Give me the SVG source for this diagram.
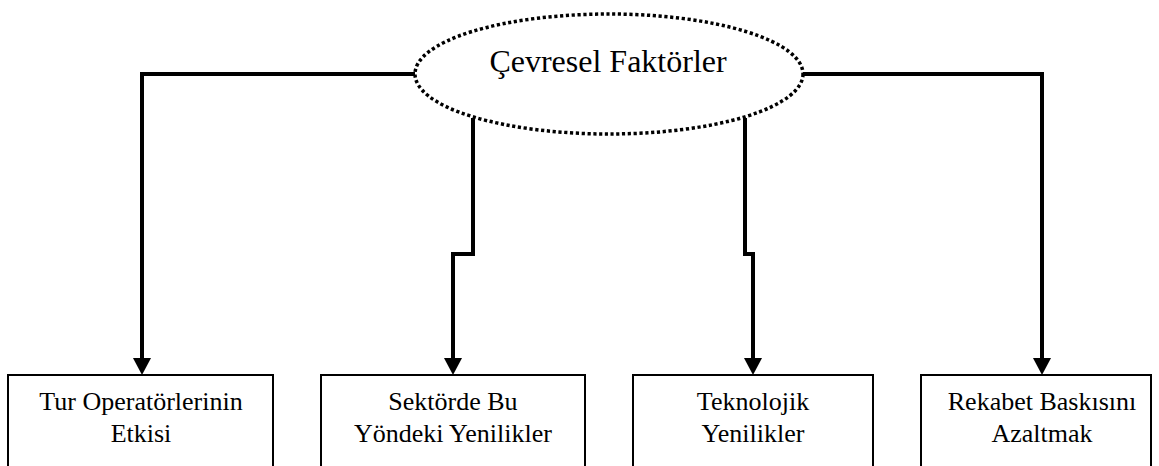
<svg xmlns="http://www.w3.org/2000/svg" width="1159" height="466" viewBox="0 0 1159 466">
  <defs>
    <style>
      .box { fill: #fff; stroke: #000; stroke-width: 2; }
      .wire { fill: none; stroke: #000; stroke-width: 4; stroke-linejoin: miter; stroke-linecap: butt; }
      .head { fill: #000; stroke: none; }
      .oval { fill: #fff; stroke: #000; stroke-width: 3.5; stroke-dasharray: 3.2 2.6; }
      .title { font-size: 32px; fill: #000; text-anchor: middle; }
      .label { font-size: 26px; fill: #000; text-anchor: middle; }
    </style>
  </defs>

  <rect width="1159" height="466" fill="#fff"/>

  <!-- connectors from the central oval down to each factor box -->
  <g id="connectors">
    <path class="wire" d="M415,74 H142 V360"/>
    <path class="wire" d="M473,118 V254 H453 V360"/>
    <path class="wire" d="M745,118 V254 H753 V360"/>
    <path class="wire" d="M803,74 H1042 V360"/>
    <polygon class="head" points="133,358 151,358 142,375"/>
    <polygon class="head" points="444,358 462,358 453,375"/>
    <polygon class="head" points="744,358 762,358 753,375"/>
    <polygon class="head" points="1033,358 1051,358 1042,375"/>
  </g>

  <g id="cevresel-faktorler">
    <ellipse class="oval" cx="609" cy="74" rx="194" ry="60"/>
    <text class="title" x="608" y="72" font-family="Liberation Serif">Çevresel Faktörler</text>
  </g>

  <g id="tur-operatorleri">
    <rect class="box" x="8" y="375" width="265" height="110"/>
    <text class="label" x="141" y="410" font-family="Liberation Serif">Tur Operatörlerinin</text>
    <text class="label" x="141" y="442" font-family="Liberation Serif">Etkisi</text>
  </g>

  <g id="sektor-yenilikleri">
    <rect class="box" x="321" y="375" width="264" height="110"/>
    <text class="label" x="453" y="410" font-family="Liberation Serif">Sektörde Bu</text>
    <text class="label" x="453" y="442" font-family="Liberation Serif">Yöndeki Yenilikler</text>
  </g>

  <g id="teknolojik-yenilikler">
    <rect class="box" x="633" y="375" width="240" height="110"/>
    <text class="label" x="753" y="410" font-family="Liberation Serif">Teknolojik</text>
    <text class="label" x="753" y="442" font-family="Liberation Serif">Yenilikler</text>
  </g>

  <g id="rekabet-baskisi">
    <rect class="box" x="921" y="375" width="230" height="110"/>
    <text class="label" x="1042" y="410" font-family="Liberation Serif">Rekabet Baskısını</text>
    <text class="label" x="1042" y="442" font-family="Liberation Serif">Azaltmak</text>
  </g>
</svg>
